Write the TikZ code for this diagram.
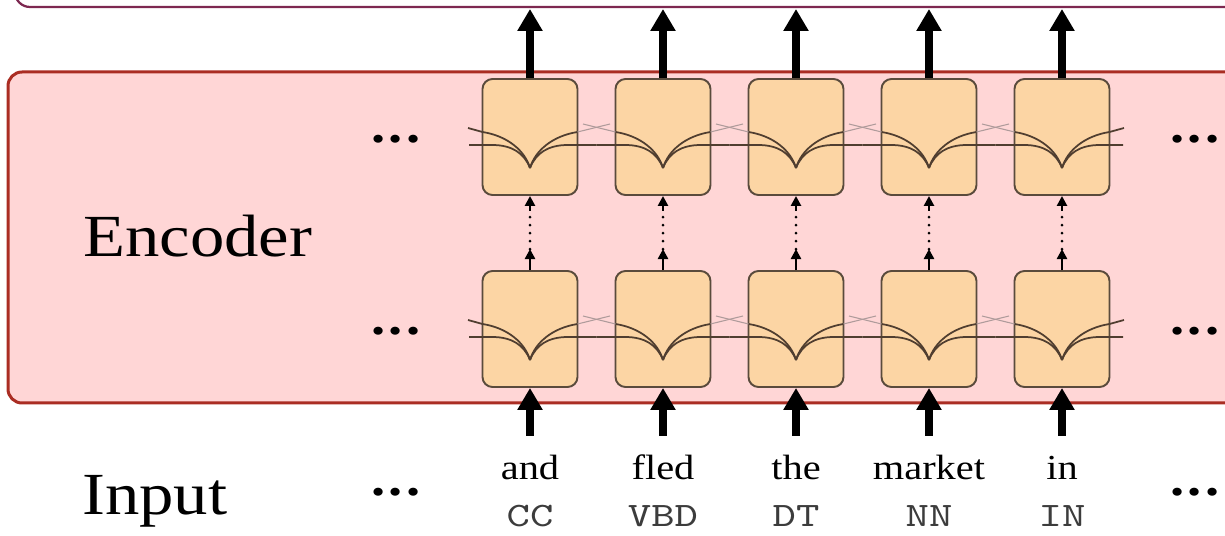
\documentclass[tikz,border=0pt]{standalone}
\usepackage{fontspec}
\setmainfont{Liberation Serif}[FakeStretch=1.15]
\setmonofont{lmmono10-regular}[Extension=.otf,FakeStretch=1.3]
\usepackage{tikz}
\usetikzlibrary{arrows.meta,calc}

\definecolor{encfill}{RGB}{255,214,214}
\definecolor{encline}{RGB}{170,45,35}
\definecolor{decline}{RGB}{125,40,80}
\definecolor{cellfill}{RGB}{252,213,164}
\definecolor{cellline}{RGB}{90,75,60}
\definecolor{wirecol}{RGB}{80,62,48}
\definecolor{faint}{RGB}{175,155,155}
\definecolor{tagcol}{RGB}{60,60,60}

% three heavy dots
\newcommand{\ellip}{\textbf{.\kern0.6mm.\kern0.6mm.}}

\begin{document}
\begin{tikzpicture}[x=0.2mm,y=0.2mm,
  cell/.style={draw=cellline,fill=cellfill,line width=1.1pt,rounded corners=2mm,
    minimum width=19mm,minimum height=23.2mm,inner sep=0pt},
  word/.style={font=\fontsize{20}{24}\selectfont,anchor=base,inner sep=0pt,text height=14pt},
  tag/.style={font=\ttfamily\fontsize{19.5}{24}\selectfont,text=tagcol,anchor=base,inner sep=0pt},
  big/.style={font=\fontsize{34}{40}\selectfont,anchor=base west,inner sep=0pt},
  more/.style={font=\fontsize{28}{30}\selectfont,inner sep=0pt},
  inarrow/.style={line width=4pt,-{Triangle[width=4.8mm,length=4.4mm]},shorten <=3.9mm},
  outarrow/.style={line width=4pt,-{Triangle[width=4.8mm,length=4.4mm]}},
  stackarrow/.style={line width=1.4pt,-{Triangle[width=2mm,length=2mm]}},
  dotline/.style={line width=0.6mm,line cap=round,dash pattern=on 0pt off 1.6mm},
  wire/.style={draw=wirecol,line width=1pt},
]
\useasboundingbox (0,0) rectangle (1225,536);
\clip (0,0) rectangle (1225,536);

% edge of the decoder block above, and the encoder block
\draw[decline,line width=0.45mm,rounded corners=3mm] (15,529) rectangle (1300,640);
\draw[encline,fill=encfill,line width=0.6mm,rounded corners=2.8mm] (8,133) rectangle (1300,464);

\node[big] (enc) at (83,279) {Encoder};
\node[big] (inp) at (82,21) {Input};

\foreach \x/\n in {396/l,1195/r}{
  \node[more] (dots\n2) at (\x,397) {\ellip};
  \node[more] (dots\n1) at (\x,205) {\ellip};
  \node[more] (dots\n0) at (\x,44) {\ellip};
}

% two stacked layers of cells, one column per token
\foreach \w/\t [count=\i] in {and/CC,fled/VBD,the/DT,market/NN,in/IN}{
  \pgfmathsetmacro\cx{530+133*(\i-1)}
  \node[cell] (h1-\i) at (\cx,207) {};
  \node[cell] (h2-\i) at (\cx,399) {};
  \node[word] (w\i) at (\cx,56) {\w};
  \node[tag] (t\i) at (\cx,9) {\t};
  \coordinate (o\i) at (\cx,527);
}

% recurrent wires inside the cells
\foreach \i in {1,...,5}{
  \pgfmathsetmacro\cx{530+133*(\i-1)}
  \foreach \cy in {207,399}{
    \foreach \s in {-1,1}{
      \pgfmathtruncatemacro\edge{(\i-3)*\s}
      \begin{scope}[shift={(\cx,\cy)},xscale=\s]
        \draw[wire] (0,-31) .. controls (5,-14) and (22,1) .. (47.5,5);
        \ifnum\edge=2
          \draw[wire] (47.5,5) -- (62,9);
          \draw[wire] (0,-31) .. controls (6,-16) and (18,-8) .. (38,-8) -- (61,-8);
        \else
          \draw[faint,line width=0.6pt] (47.5,5) -- (80,13);
          \draw[wire] (0,-31) .. controls (6,-16) and (18,-8) .. (38,-8) -- (66.5,-8);
        \fi
      \end{scope}
    }
  }
}

% connections between layers
\foreach \i in {1,...,5}{
  \coordinate (ma\i) at ($(h1-\i.north)+(0,21)$);
  \coordinate (mb\i) at ($(h2-\i.south)-(0,15)$);
  \draw[inarrow] (w\i) -- (h1-\i);
  \draw[stackarrow] (h1-\i) -- (ma\i);
  \draw[dotline] (ma\i) -- (mb\i);
  \draw[stackarrow] (mb\i) -- (h2-\i);
  \draw[outarrow] (h2-\i) -- (o\i);
}
\end{tikzpicture}
\end{document}
